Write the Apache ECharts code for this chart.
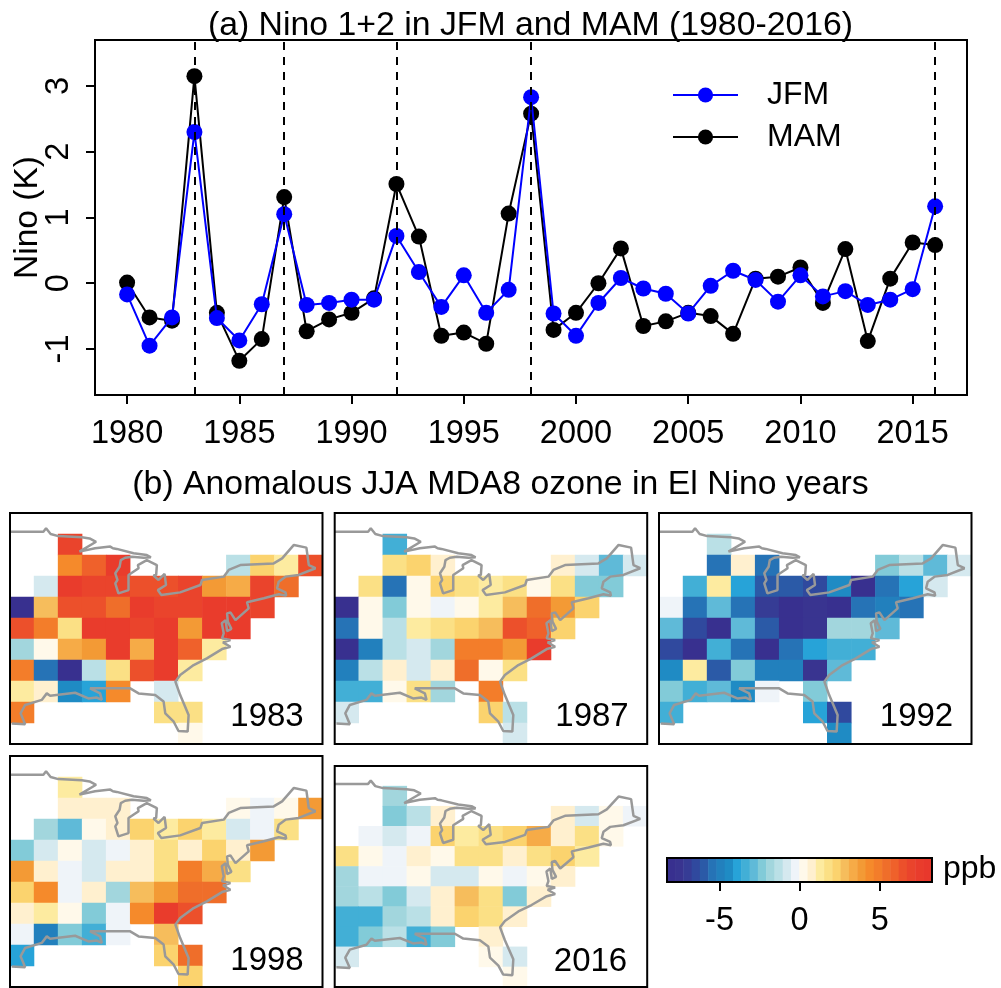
<!DOCTYPE html>
<html><head><meta charset="utf-8">
<style>html,body{margin:0;padding:0;background:#fff}#c{width:1001px;height:988px}</style>
<script src="https://cdn.jsdelivr.net/npm/echarts@6/dist/echarts.min.js"></script>
</head><body><div id="c"></div>
<script>
const years=[1980,1981,1982,1983,1984,1985,1986,1987,1988,1989,1990,1991,1992,1993,1994,1995,1996,1997,1998,1999,2000,2001,2002,2003,2004,2005,2006,2007,2008,2009,2010,2011,2012,2013,2014,2015,2016];
const jfm=[-0.17,-0.95,-0.52,2.3,-0.53,-0.87,-0.32,1.05,-0.33,-0.3,-0.25,-0.25,0.72,0.17,-0.36,0.12,-0.45,-0.1,2.83,-0.46,-0.8,-0.3,0.08,-0.08,-0.16,-0.46,-0.04,0.19,0.05,-0.28,0.12,-0.2,-0.12,-0.33,-0.25,-0.09,1.17];
const mam=[0.01,-0.52,-0.57,3.15,-0.45,-1.18,-0.85,1.31,-0.73,-0.55,-0.45,-0.23,1.51,0.71,-0.8,-0.75,-0.92,1.06,2.58,-0.71,-0.45,0,0.53,-0.65,-0.58,-0.45,-0.5,-0.77,0.07,0.1,0.24,-0.3,0.52,-0.88,0.07,0.62,0.58];
const elNinoYears=[1983,1987,1992,1998,2016];
const xTicks=[1980,1985,1990,1995,2000,2005,2010,2015];
const yTicks=[-1,0,1,2,3];
const cbTicks=[-5,0,5];
const palette=['#38308f','#393490','#363c95','#30499e','#2b5aa7','#2673b6','#2280bd','#1f8bc4','#27a3d8','#42afd6','#5fbad8','#82cbd8','#a2d6dd','#bae0e6','#d5e9ef','#eff4f9','#fff9ea','#fff0cf','#fdeba0','#fbe085','#fbd36e','#f6bd5c','#f6ab47','#f39a35','#f58a2b','#f37d2a','#ef6e2a','#ef612b','#ec502b','#ea442c','#e93c2c','#e8382c'];
const colorbarBins=[-8,-7.5,-7,-6.5,-5.9,-5.4,-4.9,-4.4,-3.9,-3.4,-2.9,-2.3,-1.8,-1.3,-0.8,-0.3,0.3,0.8,1.3,1.8,2.3,2.9,3.4,3.9,4.4,4.9,5.4,5.9,6.5,7,7.5,8];
const _=null;
const ozone1983=[
[_,_,_,_,_,_,_,_,_,_,_,_,_],
[_,_,7,_,_,_,_,_,_,_,_,_,_],
[_,_,4.4,5.9,7.5,_,_,_,_,-1.3,2.3,1.3,6.5],
[_,-0.8,7.5,7,7,6.5,6.5,7,3.9,3.4,7,5.4,_],
[-8,2.9,6.5,6.5,5.4,7.5,7,7,7.5,7.5,7,_,_],
[6.5,4.9,1.8,7.5,7.5,7,7.5,3.9,7.5,7.5,_,_,_],
[-1.8,0.3,3.4,3.9,7.5,3.4,7.5,5.9,1.3,_,_,_,_],
[4.9,-5.6,-8,-1.3,1.8,6.5,7.5,1.3,_,_,_,_,_],
[1.3,0.8,-4.4,-3.9,4.4,_,-0.8,_,_,_,_,_,_],
[4.9,_,_,_,_,_,1.8,1.8,_,_,_,_,_],
[_,_,_,_,_,_,_,0.3,_,_,_,_,_]];
const ozone1987=[
[_,_,_,_,_,_,_,_,_,_,_,_,_],
[_,_,-3.4,_,_,_,_,_,_,_,_,_,_],
[_,_,1.8,2.3,0.8,_,_,_,_,0.8,-0.8,-2.9,-0.8],
[_,1.8,-5.4,0.3,2.3,1.8,1.3,1.8,0.3,1.8,-2.3,-2.3,_],
[-8,0.3,-2.3,0.3,-0.3,0.3,1.3,2.9,5.4,3.9,2.3,_,_],
[-5.4,0.3,-1.3,1.3,1.8,2.3,2.9,6.5,5.9,2.3,_,_,_],
[-8,-4.9,-1.3,-0.8,-1.8,4.9,4.9,3.9,7.5,_,_,_,_],
[-4.9,-1.3,0.8,-0.8,0.8,5.4,0.3,1.8,_,_,_,_,_],
[-3.4,-3.4,0.3,1.8,-1.8,_,4.9,_,_,_,_,_,_],
[-0.8,_,_,_,_,_,2.3,-1.3,_,_,_,_,_],
[_,_,_,_,_,_,_,-0.8,_,_,_,_,_]];
const ozone1992=[
[_,_,_,_,_,_,_,_,_,_,_,_,_],
[_,_,-1.3,_,_,_,_,_,_,_,_,_,_],
[_,_,-5.4,0.8,-5.4,_,_,_,_,-2.3,-1.3,-2.9,-0.8],
[_,-3.4,1.3,-3.9,-6,-5.9,-6.5,-4.4,-8,-5.4,-3.9,-0.8,_],
[-0.3,-5.4,-2.9,-5.4,-7,-8,-7.5,-8,-5.4,-4.9,-5.4,_,_],
[-2.9,-6.5,-8,-2.9,-5.9,-8,-7.5,-1.8,-1.8,-2.9,_,_,_],
[-6.5,-8,-3.4,-5.4,-8,-5.4,-3.9,-3.4,-3.4,_,_,_,_],
[-4.4,1.3,-5.9,-2.3,-4.9,-4.9,-7.5,-2.9,_,_,_,_,_],
[-2.3,-3.4,-2.9,-4.4,-0.3,_,-2.3,_,_,_,_,_,_],
[-3.4,_,_,_,_,_,-3.9,-6.5,_,_,_,_,_],
[_,_,_,_,_,_,_,-4.4,_,_,_,_,_]];
const ozone1998=[
[_,_,_,_,_,_,_,_,_,_,_,_,_],
[_,_,1.3,_,_,_,_,_,_,_,_,_,_],
[_,_,0.8,0.8,0.8,_,_,_,_,0.3,-0.3,0.3,3.9],
[_,-1.8,-2.9,0.3,0.8,2.3,1.3,2.3,1.3,-0.8,-0.3,1.8,_],
[-2.3,-0.8,0.3,-0.8,-0.3,0.8,1.8,0.8,2.3,0.8,3.9,_,_],
[3.9,0.8,-0.3,-0.8,0.8,0.8,1.8,4.9,3.4,1.8,_,_,_],
[2.3,4.4,-0.3,0.8,-1.8,2.9,3.9,5.4,5.4,_,_,_,_],
[0.8,1.3,0.3,-2.3,-0.3,4.4,7.5,6.5,_,_,_,_,_],
[-0.3,-4.9,-2.3,-3.4,-0.3,_,2.9,_,_,_,_,_,_],
[-3.9,_,_,_,_,_,2.3,5.4,_,_,_,_,_],
[_,_,_,_,_,_,_,2.3,_,_,_,_,_]];
const ozone2016=[
[_,_,_,_,_,_,_,_,_,_,_,_,_],
[_,_,-1.8,_,_,_,_,_,_,_,_,_,_],
[_,_,-2.3,-1.3,0.8,_,_,_,_,0.8,-0.8,0.3,-0.3],
[_,-0.3,-0.8,-0.3,2.3,1.3,2,2.3,3.4,0.8,1.8,0.3,_],
[1.8,0.3,-0.3,0.8,0.3,1.8,1.8,0.8,2,2.3,1.3,_,_],
[-1.8,-0.3,-0.3,0.3,-0.8,-0.8,0.3,-0.3,0.3,0.8,_,_,_],
[-1.8,-1.3,-2.3,-0.8,0.8,2.9,2,-2.3,0.8,_,_,_,_],
[-3.4,-3.4,-1.8,-1.3,0.8,2.3,2,0.8,_,_,_,_,_],
[-3.4,-2.3,-1.3,-3.4,-2.3,_,0.8,_,_,_,_,_,_],
[-0.8,_,_,_,_,_,0.3,-0.8,_,_,_,_,_],
[_,_,_,_,_,_,_,0.3,_,_,_,_,_]];
const coast=[[0,.89],[1.39,.89],[1.5,.73],[1.69,1],[2.01,1.1],[2.99,1.16],[3.31,1.21],[3.58,1.37],[2.89,1.84],[3.54,1.68],[4.17,1.6],[4.28,1.68],[4.44,1.71],[5.14,1.92],[5.69,2],[5.86,2.11],[5.56,2.13],[5.07,2.08],[4.79,2.13],[4.61,2.24],[4.56,2.56],[4.38,2.87],[4.47,3.19],[4.38,3.35],[4.51,3.83],[4.93,3.67],[4.93,2.95],[5.35,2.63],[5.32,2.48],[5.69,2.24],[6.11,2.48],[6.08,2.95],[5.97,2.98],[6.18,3.19],[6.43,2.9],[6.49,3.43],[6.15,3.67],[6.29,3.9],[7.08,3.78],[7.92,3.43],[7.99,3.19],[8.89,3.03],[9.1,2.71],[9.58,2.48],[10.97,2.4],[11.32,2.16],[11.81,1.52],[12.33,1.65],[12.43,2.48],[12.71,2.63],[12.01,2.95],[11.46,3.03],[11.18,3.27],[11.11,3.59],[11.46,3.78],[11.49,3.94],[11.18,3.87],[10.56,4.06],[9.86,4.25],[9.93,4.54],[9.38,5.1],[9.17,4.73],[9.03,4.78],[9.06,5.17],[9.21,5.52],[9.03,5.62],[8.97,5.1],[8.81,5.25],[8.89,5.73],[8.82,5.97],[9.17,6.05],[8.86,6.16],[9.17,6.37],[8.82,6.48],[8.19,6.92],[7.64,7.24],[7.08,7.71],[6.88,8.03],[7.08,8.67],[7.43,9.62],[7.39,10.41],[7.01,10.38],[6.81,9.94],[6.46,9.54],[6.39,8.98],[6.04,8.67],[5.35,8.59],[5,8.35],[4.38,8.35],[4.31,8.27],[3.33,8.35],[3.75,8.59],[3.82,8.9],[3.61,8.79],[3.26,8.83],[2.71,8.56],[1.67,8.7],[1.53,8.59],[1.32,8.9],[.63,9.14],[.44,9.54],[.63,10.06],[.07,10.02]];

const FONT='"Liberation Sans",Arial,sans-serif';
const panels=[
 {name:'1983',cells:ozone1983,left:10,top:513,h:231,lx:267,ly:717},
 {name:'1987',cells:ozone1987,left:334.7,top:513,h:231,lx:592,ly:717},
 {name:'1992',cells:ozone1992,left:659,top:513,h:231,lx:916.5,ly:717},
 {name:'1998',cells:ozone1998,left:10,top:756,h:231,lx:267,ly:961},
 {name:'2016',cells:ozone2016,left:334.7,top:766,h:221,lx:590.5,ly:962}];

const pieces=palette.map((c,i)=>({gte:-8.3+i*0.51875,lt:-8.3+(i+1)*0.51875,color:c}));
const cols=[...Array(13).keys()].map(String), rows=[...Array(11).keys()].map(String);
const lineAx={show:true,onZero:false,lineStyle:{color:'#000',width:2}};
const grids=[{left:95,top:40,width:872,height:355,show:true,borderColor:'#000',borderWidth:2,backgroundColor:'transparent',z:10,outerBoundsMode:'none'}];
const xAxes=[{type:'value',gridIndex:0,position:'bottom',min:1978.57,max:2017.42,splitLine:{show:false},axisLine:lineAx,
  axisTick:{show:true,customValues:xTicks,length:9,lineStyle:{color:'#000',width:2}},
  axisLabel:{customValues:xTicks,formatter:v=>String(v),color:'#000',fontSize:32.5,fontFamily:FONT,margin:23,hideOverlap:false}}];
const yAxes=[{type:'value',gridIndex:0,position:'left',min:-1.7,max:3.7,splitLine:{show:false},axisLine:lineAx,
  name:'Nino (K)',nameLocation:'middle',nameGap:50,nameMoveOverlap:false,nameRotate:90,nameTextStyle:{color:'#000',fontSize:33.5,fontFamily:FONT},
  axisTick:{show:true,customValues:yTicks,length:9,lineStyle:{color:'#000',width:2}},
  axisLabel:{customValues:yTicks,rotate:90,color:'#000',fontSize:32.5,fontFamily:FONT,margin:19,hideOverlap:false}}];
const series=[
 {name:'MAM',type:'line',xAxisIndex:0,yAxisIndex:0,data:years.map((y,i)=>[y,mam[i]]),symbol:'circle',symbolSize:16,showSymbol:true,
  itemStyle:{color:'#000'},lineStyle:{color:'#000',width:2},z:2},
 {name:'JFM',type:'line',xAxisIndex:0,yAxisIndex:0,data:years.map((y,i)=>[y,jfm[i]]),symbol:'circle',symbolSize:16,showSymbol:true,
  itemStyle:{color:'#0000ff'},lineStyle:{color:'#0000ff',width:2},z:3,
  markLine:{silent:true,symbol:'none',z:6,label:{show:false},lineStyle:{color:'#000',type:[8,7],width:2},data:elNinoYears.map(y=>({xAxis:y}))}}];
const graphic=[];
panels.forEach((p,n)=>{
  const g=grids.length, xa=xAxes.length, ya=yAxes.length;
  grids.push({left:p.left,top:p.top,width:312.5,height:p.h,show:true,borderColor:'#000',borderWidth:2,backgroundColor:'transparent',z:10,outerBoundsMode:'none'});
  xAxes.push({type:'category',gridIndex:g,data:cols,show:false},{type:'value',gridIndex:g,min:0,max:13,show:false});
  yAxes.push({type:'category',gridIndex:g,data:rows,inverse:true,show:false},{type:'value',gridIndex:g,min:0,max:11,inverse:true,show:false});
  const d=[];p.cells.forEach((r,j)=>r.forEach((v,i)=>{if(v!==null)d.push([i,j,v]);}));
  series.push({name:'ozone '+p.name,type:'heatmap',xAxisIndex:xa,yAxisIndex:ya,data:d,z:2,emphasis:{disabled:true},progressive:0});
  series.push({name:'coast '+p.name,type:'line',xAxisIndex:xa+1,yAxisIndex:ya+1,data:coast,symbol:'none',showSymbol:false,lineStyle:{color:'#999',width:2.5},z:3,silent:true});
  graphic.push({type:'text',x:p.lx,y:p.ly,style:{text:p.name,fill:'#000',font:'33px '+FONT,textAlign:'center',textVerticalAlign:'middle'}});
});
// colour bar
{
  const g=grids.length, xa=xAxes.length, ya=yAxes.length;
  grids.push({left:667,top:858,width:265,height:24,show:true,borderColor:'#000',borderWidth:2,backgroundColor:'transparent',z:10,outerBoundsMode:'none'});
  xAxes.push({type:'category',gridIndex:g,data:colorbarBins.map(String),show:false},
   {type:'value',gridIndex:g,min:-8.28,max:8.26,position:'bottom',splitLine:{show:false},axisLine:lineAx,
    axisTick:{show:true,customValues:cbTicks,length:9,lineStyle:{color:'#000',width:2}},
    axisLabel:{customValues:cbTicks,color:'#000',fontSize:32.5,fontFamily:FONT,margin:23,hideOverlap:false}});
  yAxes.push({type:'category',gridIndex:g,data:['bar'],show:false});
  series.push({name:'colour bar',type:'heatmap',xAxisIndex:xa,yAxisIndex:ya,data:colorbarBins.map((v,i)=>[i,0,v]),z:2,emphasis:{disabled:true},progressive:0});
  graphic.push({type:'text',x:943,y:869,style:{text:'ppb',fill:'#000',font:'32px '+FONT,textAlign:'left',textVerticalAlign:'middle'}});
}
const heatIdx=series.map((s,i)=>s.type==='heatmap'?i:-1).filter(i=>i>=0);
const chart=echarts.init(document.getElementById('c'),null,{renderer:'canvas'});
chart.setOption({
 animation:false,backgroundColor:'#fff',
 title:[
  {text:'(a) Nino 1+2 in JFM and MAM (1980-2016)',left:530.5,top:9,textAlign:'center',padding:0,textStyle:{color:'#000',fontWeight:'normal',fontSize:33.8,fontFamily:FONT}},
  {text:'(b) Anomalous JJA MDA8 ozone in El Nino years',left:500.5,top:468,textAlign:'center',padding:0,textStyle:{color:'#000',fontWeight:'normal',fontSize:33.8,fontFamily:FONT}}],
 legend:{data:['JFM','MAM'],orient:'vertical',left:672,top:79,padding:0,itemWidth:65,itemHeight:19,itemGap:10,selectedMode:false,
  textStyle:{color:'#000',fontSize:32,fontFamily:FONT,padding:[0,0,0,24]}},
 tooltip:{show:false},
 grid:grids,xAxis:xAxes,yAxis:yAxes,
 visualMap:{type:'piecewise',show:false,seriesIndex:heatIdx,dimension:2,pieces:pieces},
 graphic:graphic,series:series});
</script></body></html>
